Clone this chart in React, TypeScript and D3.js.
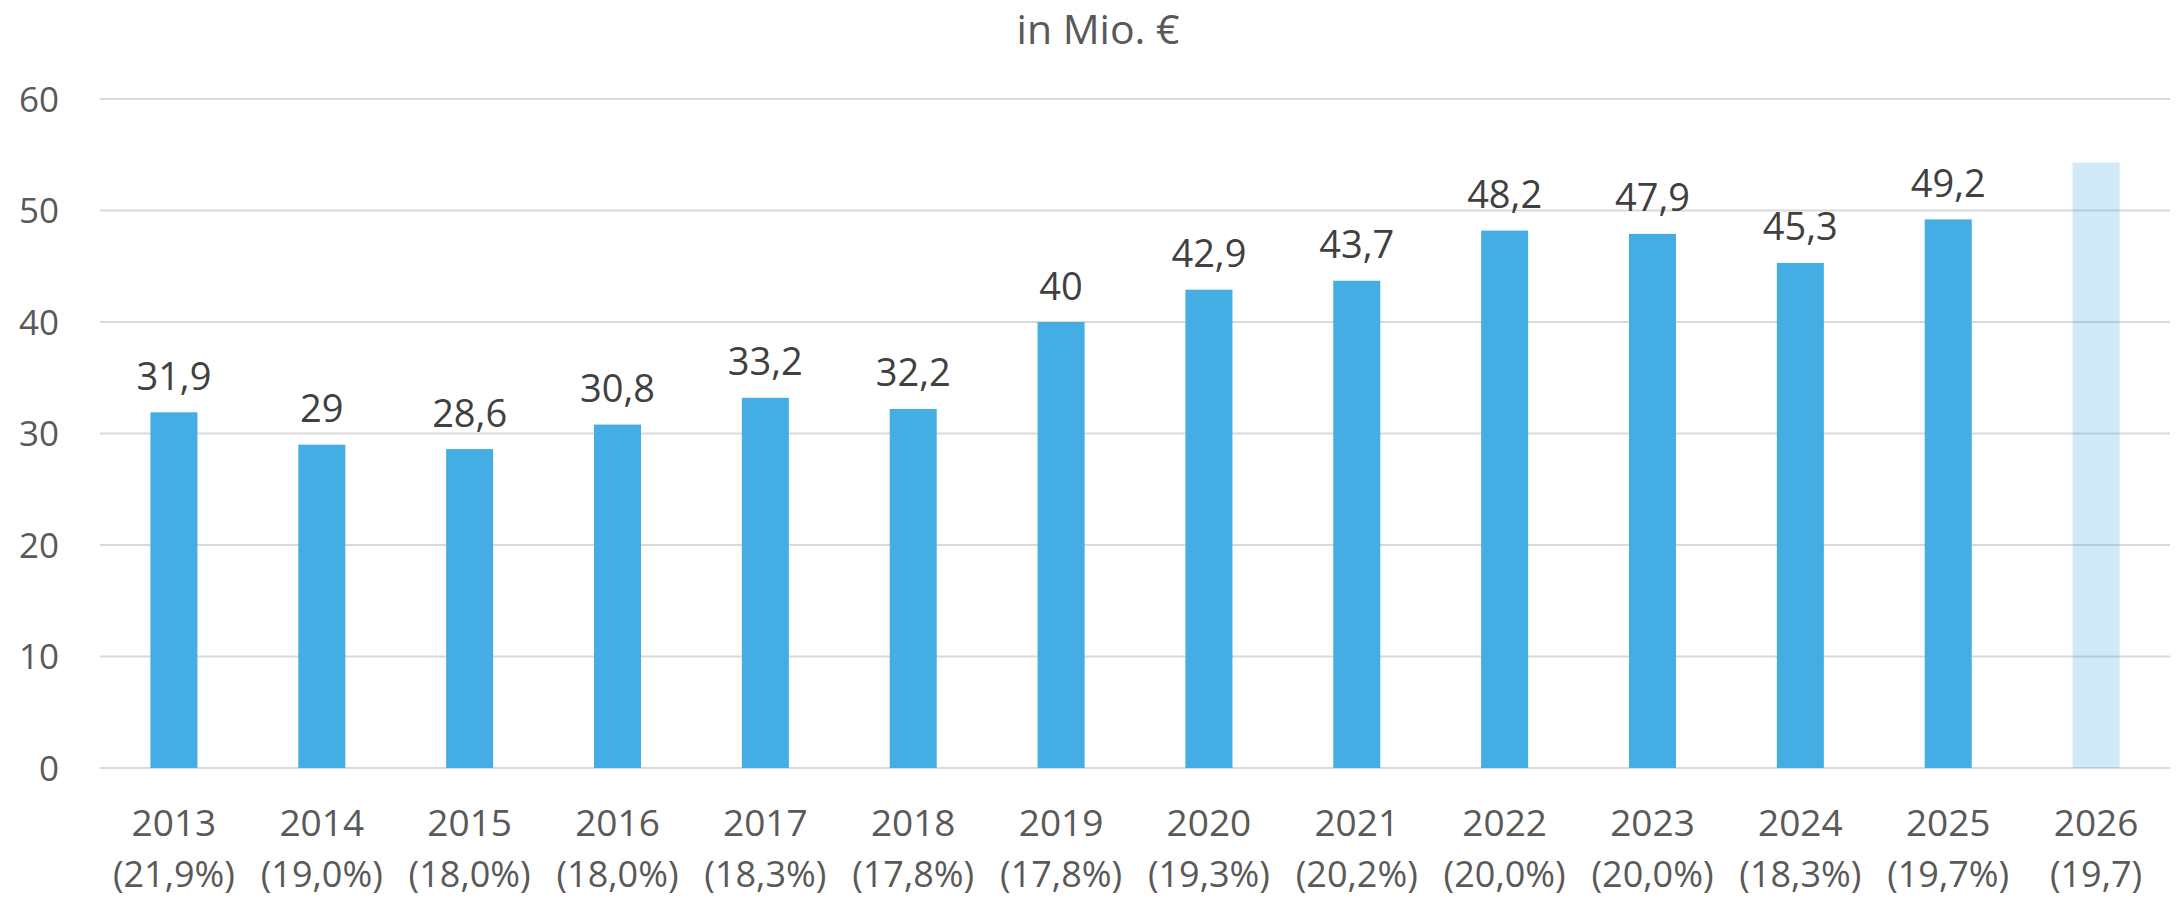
import React, { useEffect } from "react";
import * as d3 from "d3";

const years = ["2013","2014","2015","2016","2017","2018","2019","2020","2021","2022","2023","2024","2025","2026"];
const shares = ["(21,9%)","(19,0%)","(18,0%)","(18,0%)","(18,3%)","(17,8%)","(17,8%)","(19,3%)","(20,2%)","(20,0%)","(20,0%)","(18,3%)","(19,7%)","(19,7)"];
const values = [31.9, 29, 28.6, 30.8, 33.2, 32.2, 40, 42.9, 43.7, 48.2, 47.9, 45.3, 49.2, 54.3];
const showLabel = [true,true,true,true,true,true,true,true,true,true,true,true,true,false];
const forecast = [false,false,false,false,false,false,false,false,false,false,false,false,false,true];
const yTicks = [0, 10, 20, 30, 40, 50, 60];
const title = "in Mio. €";

const W = 2176, H = 898;
const FONT = "'Open Sans', sans-serif";

export default function App() {
  useEffect(() => { document.body.style.margin = "0"; }, []);
  const x = d3.scaleBand<string>().domain(years).range([100, 2170]).paddingInner(0.682).paddingOuter(0.341);
  const y = d3.scaleLinear().domain([0, 60]).range([768, 99]);
  const fmt = (v: number) => String(v).replace(".", ",");
  return (
    <svg width={W} height={H} style={{ display: "block", background: "#fff" }}>
      <text x={1098} y={44} textAnchor="middle" fontFamily={FONT} fontSize={41} fill="#595959">{title}</text>
      {yTicks.map(t => (
        <g key={t}>
          <line x1={100} x2={2170} y1={y(t)} y2={y(t)} stroke="#D9D9D9" strokeWidth={2} />
          <text x={59} y={y(t) + 12.5} textAnchor="end" fontFamily={FONT} fontSize={35} fill="#595959">{t}</text>
        </g>
      ))}
      {years.map((yr, i) => (
        <g key={yr}>
          <rect x={x(yr)} y={y(values[i])} width={x.bandwidth()} height={y(0) - y(values[i])}
            fill="#44ADE3" fillOpacity={forecast[i] ? 0.25 : 1} />
          {showLabel[i] && (
            <text x={(x(yr) as number) + x.bandwidth() / 2} y={y(values[i]) - 22.5} textAnchor="middle"
              fontFamily={FONT} fontSize={38} fill="#404040">{fmt(values[i])}</text>
          )}
          <text x={(x(yr) as number) + x.bandwidth() / 2} y={836} textAnchor="middle" fontFamily={FONT} fontSize={37} fill="#595959">{yr}</text>
          <text x={(x(yr) as number) + x.bandwidth() / 2} y={887} textAnchor="middle" fontFamily={FONT} fontSize={36} fill="#595959">{shares[i]}</text>
        </g>
      ))}
    </svg>
  );
}
